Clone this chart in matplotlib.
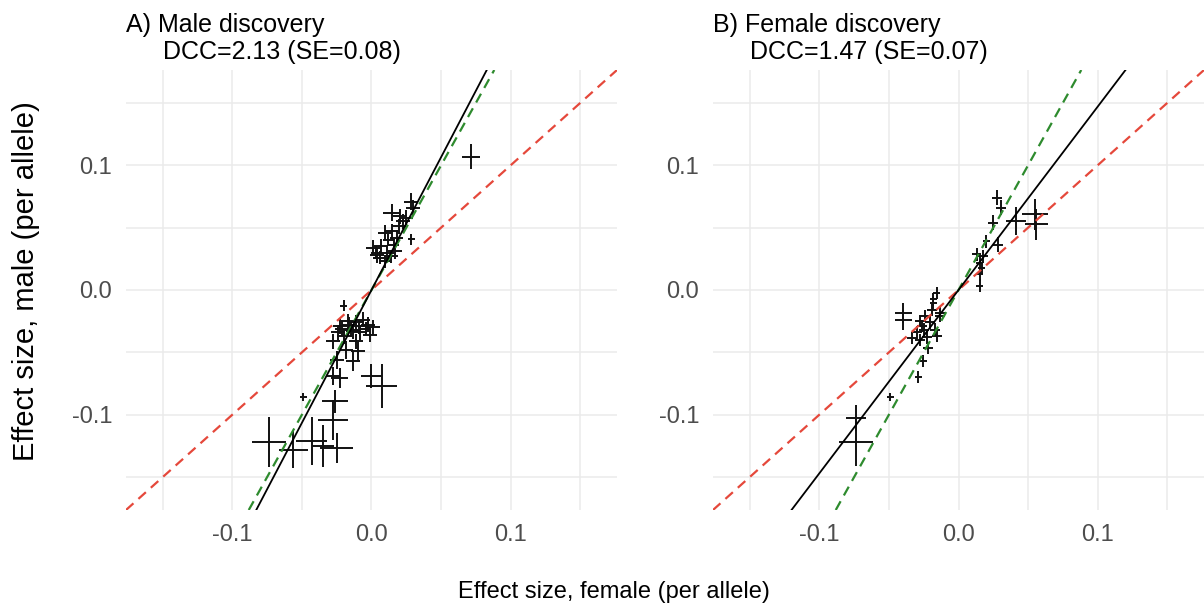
import matplotlib
matplotlib.use("Agg")
import matplotlib.pyplot as plt
import numpy as np

plt.rcParams['font.family'] = ['Liberation Sans', 'DejaVu Sans']

# male discovery: effect in females (x), males (y) and their standard errors
male_x = [0.0285, 0.030, 0.0144, 0.0203, 0.025, 0.0227, 0.020, 0.0095, 0.0144, 0.018,
          0.0287, 0.001, 0.007, 0.011, 0.006, 0.014, 0.0035, 0.0095, 0.016, 0.012,
          0.0717, 0.004, 0.017,
          -0.020, -0.011, -0.006, 0.001, -0.0144, -0.0228, -0.0276, -0.020, -0.024, -0.0084,
          -0.0024, -0.016, -0.013, -0.004, -0.018, -0.0096, -0.013, -0.025, -0.0228, -0.0276,
          0.0, 0.0072, -0.049, -0.0263, -0.0276, -0.0735, -0.0563, -0.043, -0.0347, -0.025,
          -0.009, -0.017, -0.001, -0.021, -0.011]
male_y = [0.071, 0.066, 0.062, 0.059, 0.058, 0.055, 0.051, 0.046, 0.047, 0.042,
          0.0406, 0.034, 0.035, 0.030, 0.026, 0.027, 0.030, 0.023, 0.036, 0.040,
          0.107, 0.028, 0.031,
          -0.0125, -0.026, -0.0237, -0.030, -0.0317, -0.029, -0.041, -0.037, -0.034, -0.034,
          -0.0277, -0.028, -0.033, -0.031, -0.048, -0.049, -0.057, -0.056, -0.0705, -0.069,
          -0.069, -0.077, -0.0858, -0.0893, -0.104, -0.122, -0.128, -0.121, -0.125, -0.127,
          -0.029, -0.025, -0.036, -0.031, -0.041]
male_xerr = [0.005, 0.005, 0.006, 0.005, 0.005, 0.005, 0.005, 0.005, 0.005, 0.005,
             0.0025, 0.005, 0.005, 0.005, 0.005, 0.005, 0.004, 0.004, 0.004, 0.004,
             0.0063, 0.005, 0.005,
             0.0025, 0.005, 0.005, 0.005, 0.005, 0.005, 0.005, 0.005, 0.005, 0.005,
             0.005, 0.005, 0.005, 0.004, 0.005, 0.005, 0.005, 0.005, 0.006, 0.005,
             0.0072, 0.0108, 0.0025, 0.0096, 0.0108, 0.0122, 0.0104, 0.011, 0.008, 0.012,
             0.005, 0.005, 0.005, 0.005, 0.005]
male_yerr = [0.007, 0.006, 0.007, 0.006, 0.006, 0.006, 0.006, 0.006, 0.006, 0.006,
             0.0045, 0.006, 0.006, 0.006, 0.005, 0.005, 0.005, 0.005, 0.005, 0.005,
             0.0103, 0.006, 0.006,
             0.0045, 0.006, 0.006, 0.006, 0.006, 0.006, 0.006, 0.006, 0.006, 0.006,
             0.006, 0.006, 0.006, 0.005, 0.007, 0.007, 0.008, 0.007, 0.008, 0.007,
             0.010, 0.018, 0.0035, 0.0094, 0.016, 0.020, 0.0147, 0.019, 0.017, 0.012,
             0.006, 0.006, 0.006, 0.006, 0.006]

# female discovery
fem_x = [0.0279, 0.0303, 0.025, 0.0413, 0.055, 0.056, 0.0286, 0.020, 0.013, 0.0174,
         0.0154, 0.0166, 0.0154, 0.0154, -0.0157, -0.018, -0.018, -0.0396, -0.0396, -0.024,
         -0.0205, -0.0264, -0.030, -0.0157, -0.0228, -0.0276, -0.0217, -0.0133, -0.0169, -0.025,
         -0.0133, -0.0336, -0.0253, -0.0289, -0.049, -0.0736, -0.0736, -0.028, -0.019]
fem_y = [0.074, 0.066, 0.054, 0.0553, 0.0606, 0.0526, 0.0365, 0.039, 0.0285, 0.027,
         0.022, 0.0178, 0.0125, 0.0036, -0.0023, -0.0076, -0.0103, -0.0183, -0.0237, -0.021,
         -0.026, -0.029, -0.034, -0.037, -0.038, -0.040, -0.0464, -0.021, -0.0317, -0.0317,
         -0.0183, -0.0384, -0.057, -0.0697, -0.0858, -0.1027, -0.1222, -0.025, -0.016]
fem_xerr = [0.0035, 0.0035, 0.0035, 0.0072, 0.009, 0.008, 0.0035, 0.0025, 0.0035, 0.0035,
            0.0025, 0.0025, 0.0025, 0.0025, 0.0025, 0.0025, 0.0025, 0.006, 0.006, 0.0035,
            0.0035, 0.0035, 0.0035, 0.0035, 0.0035, 0.0035, 0.0035, 0.0035, 0.0035, 0.0035,
            0.0035, 0.0035, 0.0025, 0.0025, 0.0025, 0.0072, 0.012, 0.0035, 0.0035]
fem_yerr = [0.006, 0.006, 0.006, 0.011, 0.0127, 0.0127, 0.006, 0.005, 0.005, 0.005,
            0.005, 0.005, 0.005, 0.005, 0.005, 0.005, 0.005, 0.008, 0.008, 0.005,
            0.005, 0.005, 0.005, 0.005, 0.005, 0.005, 0.005, 0.005, 0.005, 0.005,
            0.005, 0.005, 0.005, 0.005, 0.0035, 0.0107, 0.0187, 0.005, 0.005]

titles = ["A) Male discovery", "B) Female discovery"]
dcc = [2.13, 1.47]
dcc_se = [0.08, 0.07]
combined_slope = 2.0
ticks = [-0.1, 0.0, 0.1]
tick_labels = ["-0.1", "0.0", "0.1"]
lim = 0.1765

W, H = 1204, 610
fig = plt.figure(figsize=(W / 100, H / 100), dpi=100)


def px_axes(left, top, right, bottom):
    return fig.add_axes([left / W, 1 - bottom / H, (right - left) / W, (bottom - top) / H])


def panel(ax, x, y, xe, ye, slope):
    ax.set_xlim(-lim, lim)
    ax.set_ylim(-lim, lim)
    ax.set_xticks(ticks)
    ax.set_xticklabels(tick_labels)
    ax.set_yticks(ticks)
    ax.set_yticklabels(tick_labels)
    ax.set_xticks([-0.15, -0.05, 0.05, 0.15], minor=True)
    ax.set_yticks([-0.15, -0.05, 0.05, 0.15], minor=True)
    ax.grid(which='major', color='#ebebeb', lw=1.1)
    ax.grid(which='minor', color='#ebebeb', lw=1.1)
    ax.set_axisbelow(True)
    for s in ax.spines.values():
        s.set_visible(False)
    ax.tick_params(which='both', length=0, labelsize=17, labelcolor='#4d4d4d')
    ax.tick_params(axis='x', pad=10)
    ax.tick_params(axis='y', pad=10)
    ax.errorbar(x, y, xerr=xe, yerr=ye, fmt='none', ecolor='#111111',
                elinewidth=1.4, capsize=0, zorder=3)
    ax.axline((0, 0), slope=1, color='#e5483b', lw=1.6, dashes=(4.5, 3), zorder=4)
    ax.axline((0, 0), slope=combined_slope, color='#2e8b2e', lw=1.6, dashes=(4.5, 3), zorder=4)
    ax.axline((0, 0), slope=slope, color='black', lw=1.3, zorder=5)


axA = px_axes(126, 70, 617, 510)
panel(axA, male_x, male_y, male_xerr, male_yerr, dcc[0])
axB = px_axes(713, 70, 1204, 510)
panel(axB, fem_x, fem_y, fem_xerr, fem_yerr, dcc[1])

for ax, t, d, se in zip([axA, axB], titles, dcc, dcc_se):
    x0 = ax.get_position().x0 * W
    fig.text(x0 / W, 1 - 32 / H, t, fontsize=18, ha='left', va='baseline')
    fig.text((x0 + 37) / W, 1 - 59 / H, f"DCC={d:.2f} (SE={se:.2f})",
             fontsize=18, ha='left', va='baseline')

fig.text(614 / W, 1 - 598 / H, "Effect size, female (per allele)", fontsize=17,
         ha='center', va='baseline')
fig.text(26 / W, 1 - 281 / H, "Effect size, male (per allele)", fontsize=21,
         ha='center', va='center', rotation=90)

fig.savefig("out.png", dpi=100)
